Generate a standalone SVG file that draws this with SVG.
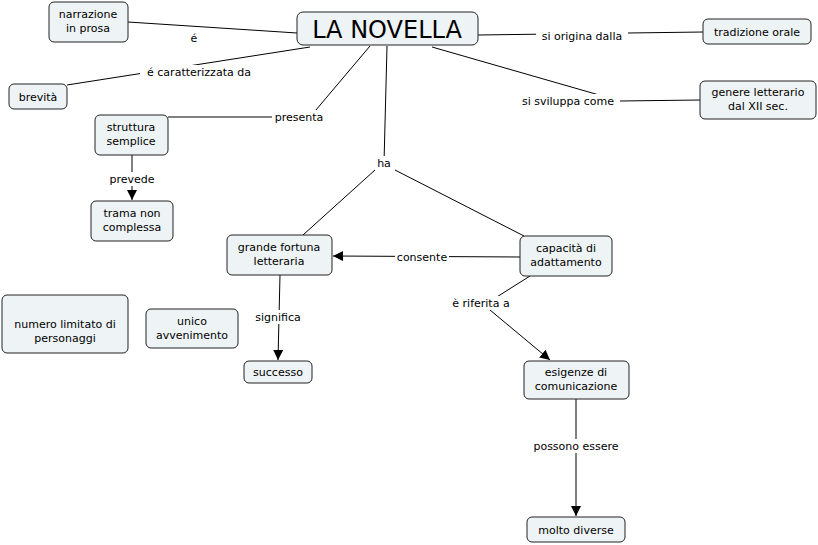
<svg xmlns="http://www.w3.org/2000/svg" width="818" height="545" viewBox="0 0 818 545">
<defs>
<style>
.n rect{fill:#eef3f5;stroke:#222;stroke-width:1}
text{font-family:"DejaVu Sans",Verdana,sans-serif;font-size:11px;fill:#000;text-anchor:middle}
.c line{stroke:#000;stroke-width:1}
.l rect{fill:#fff}
</style>
<marker id="a" viewBox="0 0 10 10" refX="10" refY="5" markerWidth="10" markerHeight="10" markerUnits="userSpaceOnUse" orient="auto"><path d="M0,0L10,5L0,10z" fill="#000"/></marker>
</defs>
<rect width="818" height="545" fill="#fff"/>
<g class="c">
<line x1="128" y1="22" x2="297" y2="33"/>
<line x1="67" y1="85" x2="310" y2="47"/>
<line x1="478" y1="35" x2="703" y2="32"/>
<line x1="432" y1="47" x2="620" y2="101"/>
<line x1="620" y1="101" x2="700" y2="100"/>
<line x1="370" y1="46" x2="310" y2="117"/>
<line x1="310" y1="117" x2="168" y2="117"/>
<line x1="387" y1="46" x2="384" y2="163"/>
<line x1="375" y1="170" x2="303" y2="235"/>
<line x1="395" y1="170" x2="524" y2="236"/>
<line x1="132" y1="155" x2="132" y2="200" marker-end="url(#a)"/>
<line x1="520" y1="257" x2="333" y2="256" marker-end="url(#a)"/>
<line x1="280" y1="275" x2="278" y2="360" marker-end="url(#a)"/>
<line x1="530" y1="276" x2="492" y2="300"/>
<line x1="490" y1="310" x2="550" y2="360" marker-end="url(#a)"/>
<line x1="576" y1="399" x2="576" y2="516" marker-end="url(#a)"/>
</g>
<g class="l">
<rect x="188" y="31" width="12" height="13"/><text x="194" y="42">é</text>
<rect x="140" y="65" width="118" height="14"/><text x="199" y="76">é caratterizzata da</text>
<rect x="536" y="29" width="92" height="14"/><text x="582" y="40">si origina dalla</text>
<rect x="516" y="94" width="104" height="14"/><text x="568" y="105">si sviluppa come</text>
<rect x="272" y="110" width="54" height="14"/><text x="299" y="121">presenta</text>
<rect x="375" y="156" width="18" height="14"/><text x="384" y="167">ha</text>
<rect x="106" y="172" width="52" height="14"/><text x="132" y="183">prevede</text>
<rect x="395" y="250" width="54" height="14"/><text x="422" y="261">consente</text>
<rect x="252" y="310" width="52" height="14"/><text x="278" y="321">significa</text>
<rect x="447" y="296" width="68" height="14"/><text x="481" y="307">è riferita a</text>
<rect x="528" y="439" width="96" height="14"/><text x="576" y="450">possono essere</text>
</g>
<g class="n" id="n1"><rect x="49" y="2" width="79" height="40" rx="5"/><text x="88" y="18">narrazione</text><text x="88" y="32">in prosa</text></g>
<g class="n" id="n2"><rect x="297" y="12" width="181" height="33" rx="6"/><text x="387" y="38" style="font-size:24px">LA NOVELLA</text></g>
<g class="n" id="n3"><rect x="703" y="19" width="108" height="25" rx="5"/><text x="757" y="36">tradizione orale</text></g>
<g class="n" id="n4"><rect x="9" y="84" width="58" height="25" rx="5"/><text x="38" y="101">brevità</text></g>
<g class="n" id="n5"><rect x="700" y="81" width="116" height="38" rx="5"/><text x="758" y="96">genere letterario</text><text x="758" y="110">dal XII sec.</text></g>
<g class="n" id="n6"><rect x="95" y="115" width="73" height="40" rx="5"/><text x="131" y="131">struttura</text><text x="131" y="145">semplice</text></g>
<g class="n" id="n7"><rect x="91" y="201" width="82" height="40" rx="5"/><text x="132" y="217">trama non</text><text x="132" y="231">complessa</text></g>
<g class="n" id="n8"><rect x="227" y="235" width="105" height="40" rx="5"/><text x="279" y="251">grande fortuna</text><text x="279" y="265">letteraria</text></g>
<g class="n" id="n9"><rect x="520" y="236" width="92" height="40" rx="5"/><text x="566" y="252">capacità di</text><text x="566" y="266">adattamento</text></g>
<g class="n" id="n10"><rect x="2" y="295" width="126" height="58" rx="5"/><text x="65" y="328">numero limitato di</text><text x="65" y="342">personaggi</text></g>
<g class="n" id="n11"><rect x="146" y="309" width="92" height="39" rx="5"/><text x="192" y="325">unico</text><text x="192" y="339">avvenimento</text></g>
<g class="n" id="n12"><rect x="244" y="361" width="68" height="22" rx="5"/><text x="278" y="376">successo</text></g>
<g class="n" id="n13"><rect x="524" y="361" width="105" height="38" rx="5"/><text x="576" y="376">esigenze di</text><text x="576" y="390">comunicazione</text></g>
<g class="n" id="n14"><rect x="527" y="517" width="98" height="25" rx="5"/><text x="576" y="534">molto diverse</text></g>
</svg>
